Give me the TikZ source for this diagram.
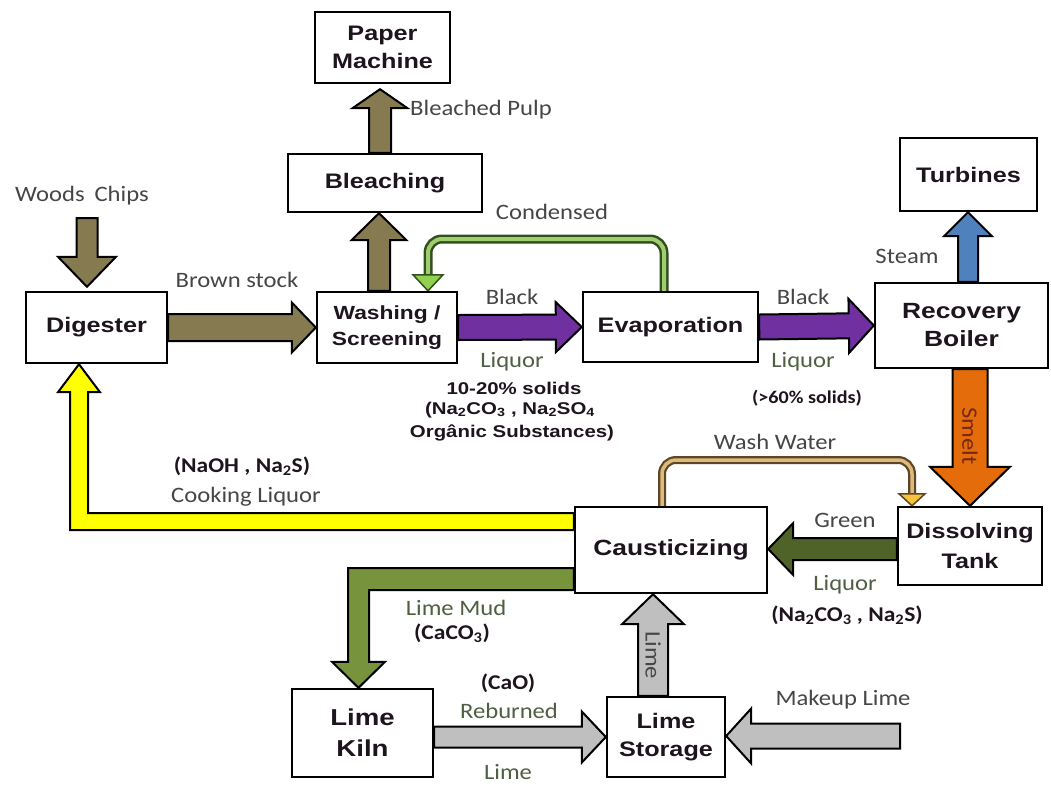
\documentclass[tikz,border=0pt]{standalone}
\usepackage{fontspec}
\setmainfont{Liberation Sans}[FakeStretch=1.2]
\newfontfamily\labfont{Carlito}[FakeStretch=1.12]
\usetikzlibrary{calc}

% fills of the flow arrows
\definecolor{brownc}{RGB}{133,122,80}
\definecolor{purplec}{RGB}{112,48,160}
\definecolor{bluec}{RGB}{79,129,189}
\definecolor{orangec}{RGB}{228,108,10}
\definecolor{dkgreen}{RGB}{79,98,40}
\definecolor{mudgreen}{RGB}{119,147,60}
\definecolor{yellowc}{RGB}{255,255,0}
\definecolor{grayc}{RGB}{191,191,191}
\definecolor{condout}{RGB}{50,80,30}
\definecolor{condin}{RGB}{160,205,110}
\definecolor{condhead}{RGB}{146,208,80}
\definecolor{washout}{RGB}{95,70,35}
\definecolor{washin}{RGB}{220,185,125}
\definecolor{washhead}{RGB}{245,195,60}
% text colours
\definecolor{boxtext}{RGB}{30,20,30}
\definecolor{labgray}{RGB}{70,70,70}
\definecolor{labgreen}{RGB}{80,95,65}
\definecolor{smeltc}{RGB}{120,40,20}

\pgfdeclarelayer{bg}
\pgfsetlayers{bg,main}

\tikzset{
  box/.style={draw=black, line width=2.4pt, fill=white, inner sep=0pt, align=center,
    text=boxtext, font=\bfseries\fontsize{21}{28}\selectfont},
  lbl/.style={inner sep=0pt, text=labgray, font=\labfont\fontsize{22}{24}\selectfont},
  lblg/.style={lbl, text=labgreen},
  lblb/.style={inner sep=0pt, text=boxtext, font=\labfont\bfseries\fontsize{21}{24}\selectfont},
  solids/.style={inner sep=0pt, text=boxtext, align=center, font=\bfseries\fontsize{17}{22}\selectfont},
  blockline/.style={draw=black, line width=2pt, line join=miter},
  inshaft/.style={inner sep=0pt, rotate=-90, font=\labfont\fontsize{22}{24}\selectfont},
}

% straight block arrow: #1 fill, #2 tail point, #3 tip point,
% #4 half shaft width, #5 half head width, #6 head length
\newcommand{\blockarrow}[6]{%
  \coordinate (ba-h) at ($#3!#6!#2$);
  \filldraw[blockline, fill=#1]
    ($#2!#4!90:#3$) -- ($(ba-h)!#4!90:#3$) -- ($(ba-h)!#5!90:#3$) -- #3
    -- ($(ba-h)!#5!-90:#3$) -- ($(ba-h)!#4!-90:#3$) -- ($#2!#4!-90:#3$) -- cycle;
}

\begin{document}
\begin{tikzpicture}[x=1pt,y=-1pt]
\useasboundingbox (0,0) rectangle (1051,785);

% process units
\node[box, minimum width=135, minimum height=71] (pm)     at (382.5,47.5) {Paper\\Machine};
\node[box, minimum width=194, minimum height=58] (bleach) at (385,183)    {Bleaching};
\node[box, minimum width=141, minimum height=71] (dig)    at (96.5,327.5) {Digester};
\node[box, minimum width=140, minimum height=71, font=\bfseries\fontsize{19}{26}\selectfont]
                                                 (wash)   at (387,327.5)  {Washing /\\Screening};
\node[box, minimum width=175, minimum height=70] (evap)   at (670.5,327)  {Evaporation};
\node[box, minimum width=173, minimum height=85, font=\bfseries\fontsize{22}{28}\selectfont]
                                                 (rec)    at (961.5,325.5){Recovery\\Boiler};
\node[box, minimum width=137, minimum height=73] (turb)   at (968.5,174.5){Turbines};
\node[box, minimum width=144, minimum height=78, font=\bfseries\fontsize{21}{30}\selectfont]
                                                 (diss)   at (970,546)    {Dissolving\\Tank};
\node[box, minimum width=192, minimum height=86, font=\bfseries\fontsize{22}{28}\selectfont]
                                                 (cau)    at (671,550)    {Causticizing};
\node[box, minimum width=141, minimum height=88, font=\bfseries\fontsize{23}{31}\selectfont]
                                                 (kiln)   at (362.5,733)  {Lime\\Kiln};
\node[box, minimum width=118, minimum height=80] (stor)   at (666,737)    {Lime\\Storage};

% helper points for the arrows
\coordinate (wc-tip) at ([xshift=-9.5pt,yshift=4pt]dig.north);
\coordinate (wc-y) at (0,218);
\coordinate (wc-top) at (wc-tip |- wc-y);
\coordinate (wb-a) at ([xshift=-8pt]wash.north);
\coordinate (wb-b) at (wb-a |- bleach.south);
\coordinate (bp-a) at ([xshift=-5pt]bleach.north);
\coordinate (bp-b) at ([yshift=-5pt]bp-a |- pm.south);
\coordinate (st-a) at ([xshift=6.5pt]rec.north);
\coordinate (st-b) at (st-a |- turb.south);
\coordinate (sm-a) at ([xshift=8.5pt]rec.south);
\coordinate (sm-b) at (sm-a |- diss.north);
\coordinate (gl-a) at ([yshift=-3pt]diss.west);
\coordinate (gl-b) at (gl-a -| cau.east);
\coordinate (li-a) at ([xshift=-13pt]stor.north);
\coordinate (li-b) at (li-a |- cau.south);
\coordinate (rb-a) at (kiln.east |- stor.west);
\coordinate (mk-tip) at ([yshift=1pt]stor.east);
\coordinate (mk-x) at (900,0);
\coordinate (mk-a) at (mk-tip -| mk-x);

\begin{pgfonlayer}{bg}
  \fill[white] (0,0) rectangle (1051,785);
  % straight flows
  \blockarrow{brownc}{(wc-top)}{(wc-tip)}{10.5pt}{29pt}{30pt}
  \blockarrow{brownc}{(dig.east)}{(wash.west)}{13.5pt}{25pt}{24pt}
  \blockarrow{brownc}{(wb-a)}{(wb-b)}{11pt}{27.5pt}{27pt}
  \blockarrow{brownc}{(bp-a)}{(bp-b)}{11pt}{27.5pt}{19pt}
  \blockarrow{purplec}{(wash.east)}{(evap.west)}{12.5pt}{25pt}{26pt}
  \blockarrow{purplec}{(evap.east)}{(rec.west)}{12.5pt}{27pt}{25pt}
  \blockarrow{bluec}{(st-a)}{(st-b)}{10pt}{24pt}{24pt}
  \blockarrow{orangec}{(sm-a)}{(sm-b)}{17.5pt}{40pt}{39pt}
  \blockarrow{dkgreen}{(gl-a)}{(gl-b)}{11pt}{26pt}{25pt}
  \blockarrow{grayc}{(li-a)}{(li-b)}{15pt}{31pt}{30pt}
  \blockarrow{grayc}{(rb-a)}{(stor.west)}{10.5pt}{25.5pt}{24pt}
  \blockarrow{grayc}{(mk-a)}{(mk-tip)}{12.5pt}{27.5pt}{25pt}

  % cooking liquor back to the digester
  \coordinate (cl-tip) at ([xshift=-17.5pt]dig.south);
  \coordinate (cl-start) at ([yshift=28.5pt]cau.west);
  \coordinate (cl-corner) at (cl-tip |- cl-start);
  \filldraw[blockline, fill=yellowc]
    ($(cl-start)+(0,-8.5)$) -- ($(cl-corner)+(9,-8.5)$) -- ($(cl-tip)+(9,28)$)
    -- ($(cl-tip)+(21,28)$) -- (cl-tip) -- ($(cl-tip)+(-21,28)$) -- ($(cl-tip)+(-9,28)$)
    -- ($(cl-corner)+(-9,8.5)$) -- ($(cl-start)+(0,8.5)$) -- cycle;

  % lime mud to the kiln
  \coordinate (lm-tip) at ([xshift=-4pt]kiln.north);
  \coordinate (lm-start) at ([yshift=-29pt]cau.west);
  \coordinate (lm-corner) at (lm-tip |- lm-start);
  \filldraw[blockline, fill=mudgreen]
    ($(lm-start)+(0,-11)$) -- ($(lm-corner)+(-10.5,-11)$) -- ($(lm-tip)+(-10.5,-26)$)
    -- ($(lm-tip)+(-26.5,-26)$) -- (lm-tip) -- ($(lm-tip)+(26.5,-26)$) -- ($(lm-tip)+(10.5,-26)$)
    -- ($(lm-corner)+(10.5,11)$) -- ($(lm-start)+(0,11)$) -- cycle;

  % condensate return
  \coordinate (cd-a) at ([xshift=-6.5pt]evap.north);
  \coordinate (cd-b) at ([xshift=41pt]wash.north);
  \coordinate (cd-y) at (0,239);
  \coordinate (cd-end) at ($(cd-b)+(0,-16)$);
  \draw[condout, line width=9pt, rounded corners=14pt]
    (cd-a) -- (cd-a |- cd-y) -- (cd-b |- cd-y) -- (cd-end);
  \draw[condin, line width=4pt, rounded corners=14pt]
    (cd-a) -- (cd-a |- cd-y) -- (cd-b |- cd-y) -- (cd-end);
  \filldraw[draw=condout, line width=1.5pt, fill=condhead]
    ($(cd-end)+(-15,0)$) -- (cd-b) -- ($(cd-end)+(15,0)$) -- cycle;

  % wash water loop
  \coordinate (ww-a) at ([xshift=-9pt]cau.north);
  \coordinate (ww-b) at ([xshift=-58pt]diss.north);
  \coordinate (ww-y) at (0,460);
  \coordinate (ww-end) at ($(ww-b)+(0,-12)$);
  \draw[washout, line width=8pt, rounded corners=14pt]
    (ww-a) -- (ww-a |- ww-y) -- (ww-b |- ww-y) -- (ww-end);
  \draw[washin, line width=3.5pt, rounded corners=14pt]
    (ww-a) -- (ww-a |- ww-y) -- (ww-b |- ww-y) -- (ww-end);
  \filldraw[draw=washout, line width=1.5pt, fill=washhead]
    ($(ww-end)+(-13,0)$) -- (ww-b) -- ($(ww-end)+(13,0)$) -- cycle;
\end{pgfonlayer}

% stream labels
\node[lbl] (t-wood)   at (82,196)   {Woods\hspace{0.45em}Chips};
\node[lbl] (t-brown)  at (237,280)  {Brown stock};
\node[lbl] (t-pulp)   at (481,110)  {Bleached Pulp};
\node[lbl] (t-cond)   at (552,212)  {Condensed};
\node[lbl] (t-blk1)   at (512,297)  {Black};
\node[lblg] (t-liq1)  at (512,362)  {Liquor};
\node[solids] (t-sol1) at (514,388) {10-20\% solids};
\node[solids] (t-sol2) at (510,410) {(Na\textsubscript{2}CO\textsubscript{3} , Na\textsubscript{2}SO\textsubscript{4}};
\node[solids] (t-sol3) at (512,433) {Orgânic Substances)};
\node[lbl] (t-blk2)   at (803,297)  {Black};
\node[lblg] (t-liq2)  at (803,362)  {Liquor};
\node[lblb, font=\labfont\bfseries\fontsize{18}{20}\selectfont] (t-sol4) at (807,398) {(>60\% solids)};
\node[lbl] (t-steam)  at (907,256)  {Steam};
\node[inshaft, text=smeltc] (t-smelt) at (970,436) {Smelt};
\node[lbl] (t-wash)   at (775,442)  {Wash Water};
\node[lbl] (t-green)  at (845,520)  {Green};
\node[lblg] (t-liq3)  at (845,585)  {Liquor};
\node[lblb] (t-gl)    at (847,615)  {(Na\textsubscript{2}CO\textsubscript{3} , Na\textsubscript{2}S)};
\node[lblb] (t-naoh)  at (242,466)  {(NaOH , Na\textsubscript{2}S)};
\node[lbl] (t-cook)   at (246,497)  {Cooking Liquor};
\node[lblg] (t-mud)   at (456,608)  {Lime Mud};
\node[lblb] (t-caco)  at (452,633)  {(CaCO\textsubscript{3})};
\node[lblb] (t-cao)   at (508,683)  {(CaO)};
\node[lblg] (t-reb)   at (509,711)  {Reburned};
\node[lblg] (t-lime)  at (508,772)  {Lime};
\node[inshaft, text=labgray] (t-lime2) at (653,655) {Lime};
\node[lbl] (t-make)   at (843,700)  {Makeup Lime};
\end{tikzpicture}
\end{document}
